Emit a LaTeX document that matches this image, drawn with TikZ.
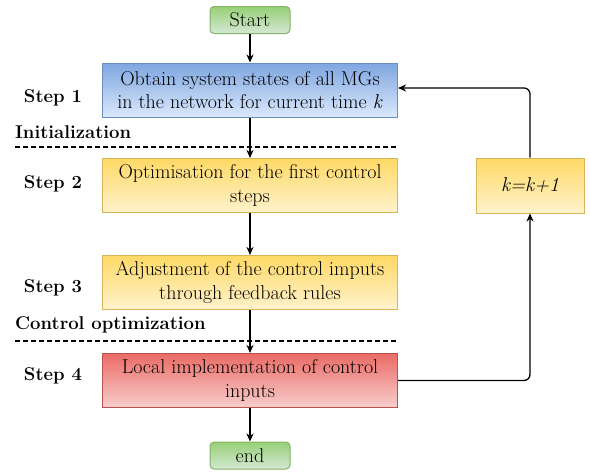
\documentclass[tikz,border=0pt]{standalone}
\usetikzlibrary{arrows.meta}
\definecolor{bluetop}{HTML}{7EA6E0}
\definecolor{bluebot}{HTML}{DAE8FC}
\definecolor{blueline}{HTML}{6C8EBF}
\definecolor{yeltop}{HTML}{FFD966}
\definecolor{yelbot}{HTML}{FFF2CC}
\definecolor{yelline}{HTML}{D6B656}
\definecolor{redtop}{HTML}{EA6B66}
\definecolor{redbot}{HTML}{F8CECC}
\definecolor{redline}{HTML}{B85450}
\definecolor{grntop}{HTML}{97D077}
\definecolor{grnbot}{HTML}{D5E8D4}
\definecolor{grnline}{HTML}{82B366}
\begin{document}
\begin{tikzpicture}[x=1pt,y=-1pt,
  txt/.style={font=\fontsize{20}{23.5}\selectfont},
  stepbox/.style={txt, draw, line width=1pt, minimum width=295pt, minimum height=54pt,
    align=center, inner sep=0pt},
  bluebox/.style={stepbox, draw=blueline, top color=bluetop, bottom color=bluebot},
  yelbox/.style={stepbox, draw=yelline, top color=yeltop, bottom color=yelbot},
  redbox/.style={stepbox, draw=redline, top color=redtop, bottom color=redbot},
  term/.style={txt, draw=grnline, line width=1pt, rounded corners=4pt, top color=grntop,
    bottom color=grnbot, minimum width=80pt, minimum height=27pt, inner sep=0pt},
  lab/.style={font=\fontsize{18.5}{23.5}\selectfont\bfseries, inner sep=0pt},
  flow/.style={line width=1.3pt, -{Stealth[length=8pt,width=7pt,inset=2.5pt]}},
  sep/.style={line width=1.1pt, dash pattern=on 4.5pt off 3.5pt}
]
\useasboundingbox (0,0) rectangle (590,472);

% process boxes
\node[term] (start) at (250,20) {Start};
\node[bluebox] (s1) at (250,90) {Obtain system states of all MGs\\in the network for current time \textit{k}};
\node[yelbox] (s2) at (250,185.5) {Optimisation for the first control\\steps};
\node[yelbox] (s3) at (250,282.5) {Adjustment of the control imputs\\through feedback rules};
\node[redbox] (s4) at (250,380.5) {Local implementation of control\\inputs};
\node[term] (stop) at (250,455.5) {end};
\node[yelbox, minimum width=108pt, minimum height=55pt] (inc) at (530,185.5) {\textit{k=k+1}};

% step labels and phase separators
\node[lab] (l1) at (53,98) {Step 1};
\node[lab] (l2) at (53,184) {Step 2};
\node[lab] (l3) at (53,288) {Step 3};
\node[lab] (l4) at (53,376) {Step 4};
\node[lab, anchor=west] (p1) at (15,132) {Initialization};
\node[lab, anchor=west] (p2) at (15,325) {Control optimization};
\draw[sep] (15,147) -- (397,147);
\draw[sep] (15,341) -- (397,341);

% main flow
\draw[flow] (start) -- (s1);
\draw[flow] (s1) -- (s2);
\draw[flow] (s2) -- (s3);
\draw[flow] (s3) -- (s4);
\draw[flow] (s4) -- (stop);

% feedback loop
\draw[flow, rounded corners=6pt] (s4.east) -| (inc.south);
\draw[flow, rounded corners=6pt] (inc.north) |- ([yshift=2pt]s1.east);
\end{tikzpicture}
\end{document}
